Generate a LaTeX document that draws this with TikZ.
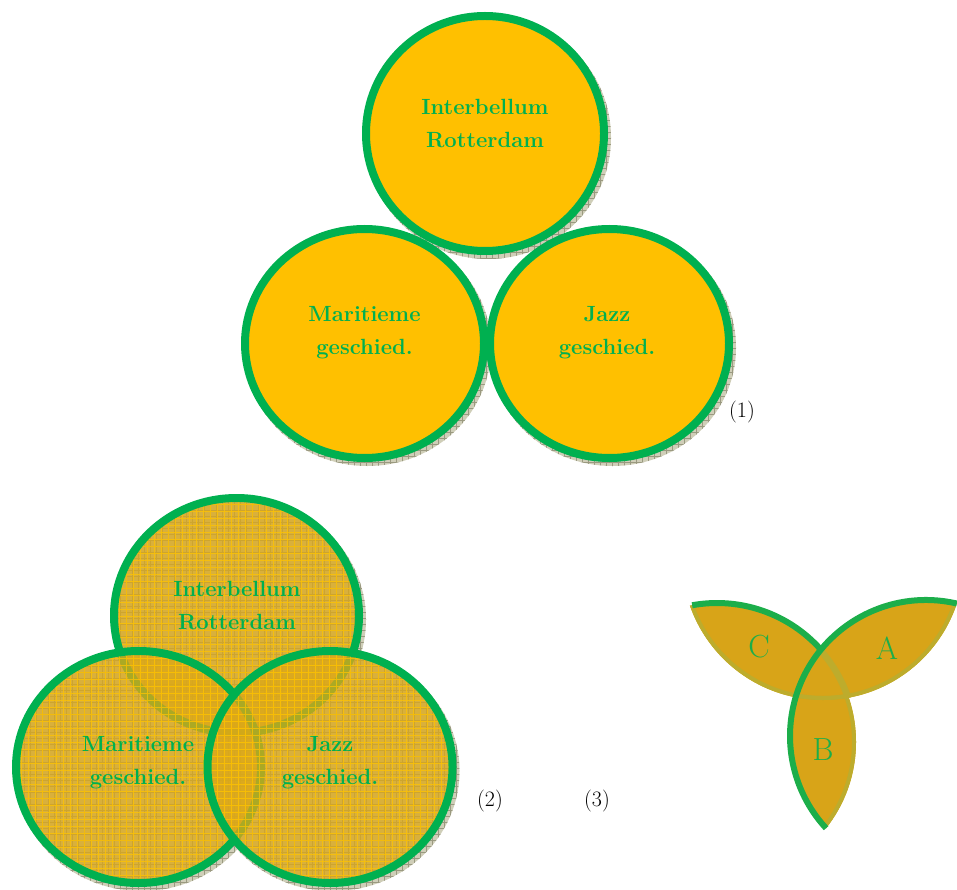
\documentclass[tikz,border=0pt]{standalone}
\usepackage{fontspec}
\definecolor{ogreen}{HTML}{00B050}
\definecolor{ogold}{HTML}{FFC000}
\definecolor{shadowbg}{HTML}{CFCEB8}
\definecolor{shadowln}{HTML}{9A9980}
\definecolor{vfill}{HTML}{DCA818}
\definecolor{vgrid}{HTML}{FFC400}
\definecolor{leaf}{HTML}{D8A418}
\definecolor{olive}{HTML}{BDAC2C}
\definecolor{lgreen}{HTML}{1CAE4A}
\tikzset{
  lbl/.style={text=ogreen, font=\fontsize{22}{33}\selectfont\bfseries, align=center, inner sep=0pt},
  num/.style={font=\fontsize{22}{26}\selectfont, inner sep=0pt},
  letter/.style={text=lgreen, font=\fontsize{32}{36}\selectfont, inner sep=0pt},
  ring/.style={draw=ogreen, line width=8pt},
  shadowfill/.style={fill=shadowbg},
  shadowgrid/.style={draw=shadowln, line width=0.5pt},
  solidfill/.style={fill=ogold},
  glassfill/.style={fill=vfill, fill opacity=0.78},
  glassgrid/.style={draw=vgrid, line width=1pt, opacity=0.75},
  leafedge/.style={draw=olive, line width=8pt},
  leafthin/.style={draw=olive, line width=5pt},
  leafgreen/.style={draw=lgreen, line width=6pt},
}
\newcommand{\shadowshape}[4]{%
  \begin{scope}
    \clip (#1+3,#2+4) ellipse [x radius=#3+4, y radius=#4+4];
    \fill[shadowfill] (#1-140,#2-140) rectangle (#1+150,#2+150);
    \draw[shadowgrid] (#1-140,#2-140) grid[step=6pt] (#1+150,#2+150);
  \end{scope}}
\newcommand{\solidcirc}[4]{%
  \draw[ring, solidfill] (#1,#2) ellipse [x radius=#3, y radius=#4];}
\newcommand{\glasscirc}[4]{%
  \fill[glassfill] (#1,#2) ellipse [x radius=#3, y radius=#4];
  \begin{scope}
    \clip (#1,#2) ellipse [x radius=#3, y radius=#4];
    \draw[glassgrid] (#1-135,#2-135) grid[step=7pt] (#1+135,#2+135);
  \end{scope}
  \draw[ring] (#1,#2) ellipse [x radius=#3, y radius=#4];}
\begin{document}
\begin{tikzpicture}[x=1pt,y=-1pt]
\useasboundingbox (0,0) rectangle (957,890);
% ---------- (1) ----------
\shadowshape{364.5}{343.5}{119.5}{114.5}
\shadowshape{609.5}{343.5}{119.5}{114.5}
\shadowshape{485}{133.5}{119}{117.5}
\solidcirc{364.5}{343.5}{119.5}{114.5}
\solidcirc{609.5}{343.5}{119.5}{114.5}
\solidcirc{485}{133.5}{119}{117.5}
\node[lbl] (t1) at (485,124) {Interbellum\\Rotterdam};
\node[lbl] (m1) at (364.5,332.5) {Maritieme\\geschied.};
\node[lbl] (j1) at (607,332.5) {Jazz\\geschied.};
\node[num] (n1) at (742,412) {(1)};
% ---------- (2) ----------
\shadowshape{236.5}{615.5}{122.5}{117.5}
\shadowshape{138.5}{767}{122.5}{116}
\shadowshape{330}{767}{122.5}{116}
\glasscirc{236.5}{615.5}{122.5}{117.5}
\glasscirc{138.5}{767}{122.5}{116}
\glasscirc{330}{767}{122.5}{116}
\node[lbl] (t2) at (237,605.3) {Interbellum\\Rotterdam};
\node[lbl] (m2) at (138,762.7) {Maritieme\\geschied.};
\node[lbl] (j2) at (330,762.7) {Jazz\\geschied.};
\node[num] (n2) at (490,801) {(2)};
\node[num] (n3) at (597,801) {(3)};
% ---------- (3) ----------
\begin{scope}
  \clip (926,736) circle [radius=136];
  \fill[leaf] (717,742) circle [radius=139];
  \fill[leaf] (823,559) circle [radius=141];
\end{scope}
\begin{scope}
  \clip (717,742) circle [radius=139];
  \fill[leaf] (823,559) circle [radius=141];
\end{scope}
% olive inner edges
\begin{scope}
  \clip (926,736) circle [radius=136];
  \clip (823,559) circle [radius=141];
  \draw[leafedge] (823,559) circle [radius=141];
  \draw[leafthin] (717,742) circle [radius=139];
\end{scope}
\begin{scope}
  \clip (717,742) circle [radius=139];
  \clip (823,559) circle [radius=141];
  \draw[leafedge] (823,559) circle [radius=141];
\end{scope}
\begin{scope}
  \clip (926,736) circle [radius=136];
  \clip (717,742) circle [radius=139];
  \draw[leafedge] (717,742) circle [radius=139];
\end{scope}
% green edges
\draw[leafgreen] (717,742) ++(-100.3:139) arc[start angle=-100.3, end angle=-41.5, radius=139];
\draw[leafgreen] (926,736) ++(-76.9:136) arc[start angle=-76.9, end angle=-222.7, radius=136];
\node[letter] (lc) at (759,647) {C};
\node[letter] (la) at (887,648) {A};
\node[letter] (lb) at (823,750) {B};
\end{tikzpicture}
\end{document}
